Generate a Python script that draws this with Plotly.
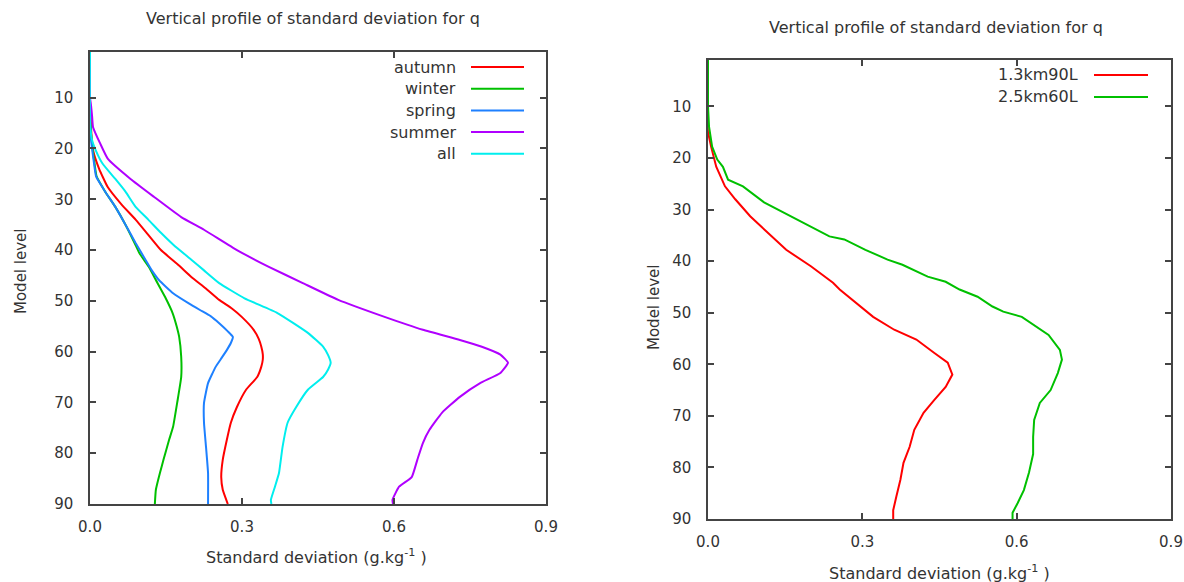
import plotly.graph_objects as go

# ---------------- data: left panel (seasons) ----------------
autumn_lev = [1, 10, 16, 20.3, 24, 27.6, 31, 34, 37, 40, 43, 45.3, 47.5, 49.8, 51.5, 53.2, 55.7, 57.5, 59, 60.5, 61.6, 63, 65, 67.5, 70.9, 74, 77.4, 81.3, 84.7, 87.2, 90]
autumn_val = [0.0, 0.0, 0.002, 0.006, 0.018, 0.035, 0.062, 0.09, 0.115, 0.14, 0.175, 0.2, 0.228, 0.255, 0.28, 0.30, 0.323, 0.333, 0.338, 0.341, 0.341, 0.338, 0.33, 0.308, 0.29, 0.278, 0.27, 0.262, 0.259, 0.262, 0.272]

winter_lev = [1, 12, 17, 20, 23, 25.5, 28.5, 31.5, 35, 38.6, 40.7, 43.3, 45.9, 49.2, 52.4, 55, 57.1, 61, 65, 70.1, 74.8, 77.4, 81.3, 83.9, 87.2, 90]
winter_val = [0.0, 0.0, 0.002, 0.005, 0.009, 0.013, 0.03, 0.05, 0.07, 0.088, 0.098, 0.116, 0.13, 0.148, 0.163, 0.171, 0.176, 0.18, 0.18, 0.172, 0.164, 0.156, 0.145, 0.138, 0.13, 0.128]

spring_lev = [1, 12, 17, 20, 23, 25.5, 28.5, 31.5, 35, 38.6, 42, 44, 45.9, 48.5, 50.5, 51.8, 53, 54.4, 56, 57.1, 58.3, 59.7, 61.5, 63, 66.2, 70.1, 74, 78.8, 83.9, 90]
spring_val = [0.0, 0.0, 0.001, 0.004, 0.008, 0.012, 0.03, 0.05, 0.07, 0.09, 0.11, 0.122, 0.136, 0.164, 0.195, 0.217, 0.238, 0.255, 0.272, 0.282, 0.278, 0.27, 0.258, 0.248, 0.233, 0.225, 0.225, 0.229, 0.233, 0.233]

summer_lev = [1, 10, 11.5, 13.5, 15.8, 19, 22, 26, 29.5, 33.5, 36, 40, 43.3, 46.5, 49.8, 53.1, 55.7, 57.7, 59, 60.6, 62.2, 64.2, 66.2, 68.9, 72, 75.4, 78, 81.3, 84.7, 86.6, 89.2, 90]
summer_val = [0.0, 0.0, 0.002, 0.004, 0.006, 0.02, 0.035, 0.08, 0.126, 0.18, 0.225, 0.29, 0.353, 0.42, 0.49, 0.58, 0.657, 0.73, 0.772, 0.81, 0.825, 0.81, 0.77, 0.73, 0.695, 0.67, 0.657, 0.646, 0.635, 0.61, 0.597, 0.598]

all_lev = [1, 15, 18.3, 20.5, 23, 26, 28.5, 31.5, 34, 36.6, 39, 41.9, 44, 46.5, 49.5, 52.4, 56.3, 59, 60.7, 62.2, 63.5, 65, 67.5, 70.9, 74, 78.8, 83.9, 86.6, 89.2, 90]
all_val = [0.0, 0.0, 0.004, 0.012, 0.025, 0.05, 0.07, 0.09, 0.115, 0.14, 0.165, 0.2, 0.225, 0.255, 0.305, 0.37, 0.43, 0.46, 0.47, 0.475, 0.47, 0.46, 0.43, 0.407, 0.39, 0.38, 0.373, 0.365, 0.357, 0.358]

# ---------------- data: right panel (resolutions) ----------------
r13_lev = [1, 10, 12, 15, 17.8, 21.7, 25.5, 28, 31.3, 34.5, 37.8, 41, 44.2, 45.5, 48, 50.8, 53.3, 55.2, 57.8, 59.7, 62, 64.4, 66.9, 69.4, 72.7, 76, 79.1, 82.4, 85.7, 88.3, 90]
r13_val = [0.0, 0.0, -0.002, 0.0, 0.006, 0.016, 0.033, 0.053, 0.082, 0.117, 0.152, 0.2, 0.243, 0.256, 0.286, 0.321, 0.362, 0.405, 0.44, 0.466, 0.475, 0.462, 0.44, 0.419, 0.401, 0.392, 0.38, 0.374, 0.366, 0.36, 0.36]

r25_lev = [1, 10, 13.9, 17.8, 20.3, 21.7, 24.2, 25.5, 28.6, 31.3, 33.9, 35.2, 35.8, 37.8, 39.7, 40.7, 43, 44, 45.5, 46.9, 48.8, 49.8, 50.8, 52.7, 54.3, 57.2, 59.1, 61.7, 65, 67.5, 70.8, 74.1, 77.4, 81, 84.4, 86.9, 88.8, 90]
r25_val = [0.0, 0.0, 0.002, 0.008, 0.018, 0.029, 0.039, 0.068, 0.109, 0.16, 0.209, 0.236, 0.265, 0.306, 0.349, 0.378, 0.427, 0.462, 0.489, 0.524, 0.553, 0.574, 0.61, 0.637, 0.662, 0.684, 0.688, 0.68, 0.666, 0.645, 0.634, 0.632, 0.632, 0.624, 0.614, 0.602, 0.592, 0.592]

left_series = [
    ("autumn", autumn_val, autumn_lev, "#ff0000"),
    ("winter", winter_val, winter_lev, "#00c000"),
    ("spring", spring_val, spring_lev, "#1e80ff"),
    ("summer", summer_val, summer_lev, "#b000ff"),
    ("all", all_val, all_lev, "#00eeee"),
]
right_series = [
    ("1.3km90L", r13_val, r13_lev, "#ff0000"),
    ("2.5km60L", r25_val, r25_lev, "#00c000"),
]

x_ticks = [0.0, 0.3, 0.6, 0.9]
y_ticks = [10, 20, 30, 40, 50, 60, 70, 80, 90]
title_text = "Vertical profile of standard deviation for q"
xtitle_text = "Standard deviation (g.kg<sup>-1</sup> )"
ytitle_text = "Model level"

FONT = "DejaVu Sans"
TXT = "#333333"
W, H = 1184, 582

fig = go.Figure()

for name, xs, ys, col in left_series:
    fig.add_trace(go.Scatter(x=xs, y=ys, mode="lines", name=name, showlegend=False,
                             line=dict(color=col, width=2, shape="spline", smoothing=0.4),
                             xaxis="x", yaxis="y"))
for name, xs, ys, col in right_series:
    fig.add_trace(go.Scatter(x=xs, y=ys, mode="lines", name=name, showlegend=False,
                             line=dict(color=col, width=2),
                             xaxis="x2", yaxis="y2"))

# pixel boxes of plot areas
L = dict(x0=90, x1=546, y0=52, y1=504)
R = dict(x0=708, x1=1171, y0=60, y1=519)

def dom_x(b):
    return [b["x0"] / W, b["x1"] / W]

def dom_y(b):
    return [(H - b["y1"]) / H, (H - b["y0"]) / H]

axis_common = dict(showline=True, linecolor="#444444", linewidth=1.5, mirror="ticks",
                   ticks="inside", ticklen=6, tickwidth=1.5, tickcolor="#444444",
                   showgrid=False, zeroline=False, automargin=False,
                   tickfont=dict(family=FONT, size=15, color=TXT))

fig.update_layout(
    width=W, height=H, margin=dict(l=0, r=0, t=0, b=0, autoexpand=False),
    paper_bgcolor="white", plot_bgcolor="white", showlegend=False,
    xaxis=dict(domain=dom_x(L), range=[0, 0.9], tickvals=x_ticks, tickformat=".1f",
               anchor="y", ticklabelstandoff=8, **axis_common),
    yaxis=dict(domain=dom_y(L), range=[90, 1], tickvals=y_ticks, anchor="x",
               ticklabelstandoff=12, **axis_common),
    xaxis2=dict(domain=dom_x(R), range=[0, 0.9], tickvals=x_ticks, tickformat=".1f",
                anchor="y2", ticklabelstandoff=8, **axis_common),
    yaxis2=dict(domain=dom_y(R), range=[90, 1], tickvals=y_ticks, anchor="x2",
                ticklabelstandoff=12, **axis_common),
)

ann = []
def pann(text, px, py, size=16, angle=0, xanchor="center"):
    ann.append(dict(text=text, x=px / W, y=1 - py / H, xref="paper", yref="paper",
                    xanchor=xanchor, yanchor="middle", showarrow=False, textangle=angle,
                    font=dict(family=FONT, size=size, color=TXT)))

pann(title_text, 313, 19, 16)
pann(title_text, 936, 27, 16)
pann(xtitle_text, 316, 556, 16)
pann(xtitle_text, 939, 572, 16)
pann(ytitle_text, 21, 272, 15, -90)
pann(ytitle_text, 654, 308, 15, -90)

shapes = []
# legend left
for i, (name, xs, ys, col) in enumerate(left_series):
    py = 67 + i * 21.7
    pann(name, 458, py, 16, 0, "right")
    shapes.append(dict(type="line", xref="paper", yref="paper",
                       x0=471 / W, x1=524 / W, y0=1 - py / H, y1=1 - py / H,
                       line=dict(color=col, width=2)))
# legend right
for i, (name, xs, ys, col) in enumerate(right_series):
    py = 75 + i * 22
    pann(name, 1080, py, 16, 0, "right")
    shapes.append(dict(type="line", xref="paper", yref="paper",
                       x0=1094 / W, x1=1148 / W, y0=1 - py / H, y1=1 - py / H,
                       line=dict(color=col, width=2)))

fig.update_layout(annotations=ann, shapes=shapes)
fig.write_html("out.html")
